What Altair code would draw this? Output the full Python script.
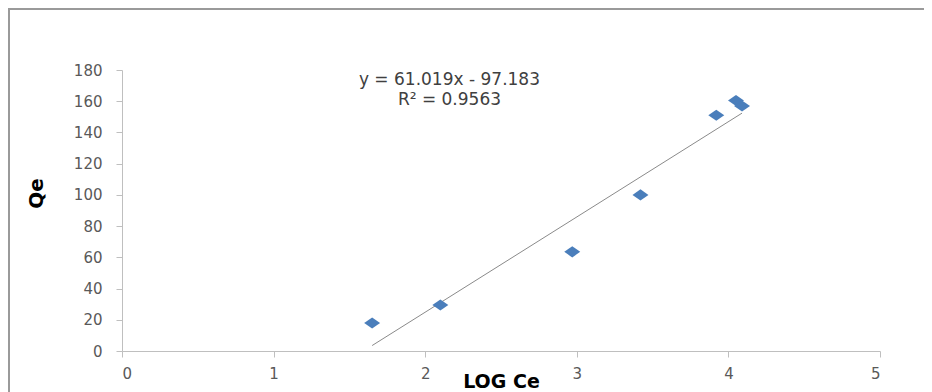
import altair as alt
import pandas as pd

# Data
log_ce = [1.65, 2.10, 2.97, 3.42, 3.92, 4.05, 4.09]
qe = [18, 29.5, 63.5, 100, 151, 160.5, 157]

slope = 61.019
intercept = -97.183
r2 = 0.9563
eq_lines = ["y = 61.019x - 97.183", "R\u00b2 = 0.9563"]
eq_pos_x = [2.16, 2.16]
eq_pos_y = [173.5, 160.5]

x_ticks = [0, 1, 2, 3, 4, 5]
y_ticks = [0, 20, 40, 60, 80, 100, 120, 140, 160, 180]

pts = pd.DataFrame({"x": log_ce, "y": qe})
trend_x = [min(log_ce), max(log_ce)]
trend = pd.DataFrame({"x": trend_x, "y": [slope * v + intercept for v in trend_x]})
eq = pd.DataFrame({"x": eq_pos_x, "y": eq_pos_y, "t": eq_lines})

W, H = 758, 281
PAD = {"left": 114, "top": 62, "right": 44, "bottom": 41}

xscale = alt.Scale(domain=[0, 5], nice=False, zero=False)
yscale = alt.Scale(domain=[0, 180], nice=False, zero=False)

xaxis = alt.Axis(values=x_ticks, tickCount=50, format="d", tickSize=6, labelPadding=9,
                 labelOverlap=False, labelFontSize=15,
                 title="LOG Ce", titleFont="DejaVu Sans", titleFontWeight="bold",
                 titleFontSize=19, titleColor="#000000", titleY=30,
                 titleBaseline="middle")
yaxis = alt.Axis(values=y_ticks, tickCount=50, format="d", tickSize=6, labelPadding=14,
                 labelOverlap=False, labelFontSize=15,
                 title="Qe", titleFont="DejaVu Sans", titleFontWeight="bold",
                 titleFontSize=20, titleColor="#000000", titleAngle=270,
                 titleX=-86, titleY=123, titleBaseline="middle", titleAlign="center")

X = alt.X("x:Q", scale=xscale, axis=xaxis)
Y = alt.Y("y:Q", scale=yscale, axis=yaxis)

one = pd.DataFrame({"a": [0]})
frame_left = alt.Chart(one).mark_rule(stroke="#9a9a9a", strokeWidth=2).encode(
    x=alt.value(-113), y=alt.value(-61), y2=alt.value(H + 200)
)
frame_top = alt.Chart(one).mark_rule(stroke="#9a9a9a", strokeWidth=2).encode(
    y=alt.value(-61), x=alt.value(-114), x2=alt.value(W + 300)
)

line = alt.Chart(trend).mark_line(color="#8a8a8a", strokeWidth=1).encode(x=X, y=Y)

points = alt.Chart(pts).mark_point(
    shape="M-1.33,0L0,-0.92L1.33,0L0,0.92Z", filled=True, opacity=1,
    color="#4a7ebb", size=144
).encode(x=X, y=Y)

text = alt.Chart(eq).mark_text(
    font="DejaVu Sans", fontSize=17, color="#404040", align="center", baseline="middle"
).encode(x=X, y=Y, text="t:N")

chart = alt.layer(frame_left, frame_top, line, points, text).properties(
    width=W, height=H,
    autosize=alt.AutoSizeParams(type="none"),
    padding=PAD,
).configure_view(stroke=None).configure_axis(
    grid=False, domainColor="#bfbfbf", tickColor="#bfbfbf",
    labelFont="DejaVu Sans", labelFontSize=15, labelColor="#595959",
)

chart.save("out.html", embed_options={"renderer": "svg", "actions": False})
